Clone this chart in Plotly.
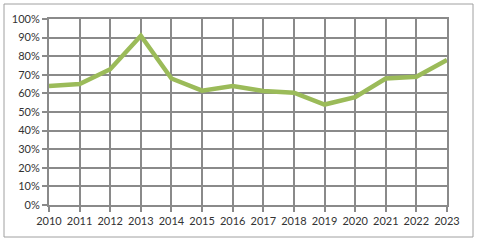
import plotly.graph_objects as go

years = [2010, 2011, 2012, 2013, 2014, 2015, 2016, 2017, 2018, 2019, 2020, 2021, 2022, 2023]
values = [64, 65, 73, 91, 68, 61.5, 64, 61.3, 60.4, 54, 58, 68, 69, 78]
y_ticks = [0, 10, 20, 30, 40, 50, 60, 70, 80, 90, 100]

grid = "#8a8a8a"
txt = "#333333"

fig = go.Figure()
fig.add_trace(go.Scatter(
    x=years, y=values, mode="lines",
    line=dict(color="#9bbb59", width=4.5),
    hoverinfo="skip", showlegend=False,
))

L, R, T, B = 49, 33, 19, 38
W, H = 480, 243
pw, ph = W - L - R, H - T - B

fig.update_layout(
    width=W, height=H,
    margin=dict(l=L, r=R, t=T, b=B, pad=0),
    paper_bgcolor="white", plot_bgcolor="white",
    font=dict(family="Lato, Liberation Sans, sans-serif", size=11, color=txt),
    xaxis=dict(
        range=[years[0], years[-1]], tickmode="array", tickvals=years,
        ticktext=[str(y) for y in years],
        showgrid=True, gridcolor=grid, gridwidth=2,
        showline=True, linecolor=grid, linewidth=2, mirror=True,
        ticks="outside", ticklen=5, tickcolor=grid, tickwidth=2,
        zeroline=False, fixedrange=True,
    ),
    yaxis=dict(
        range=[0, 100], tickmode="array", tickvals=y_ticks,
        ticktext=[f"{v}%" for v in y_ticks],
        showgrid=True, gridcolor=grid, gridwidth=2,
        showline=True, linecolor=grid, linewidth=2, mirror=True,
        ticks="outside", ticklen=5, tickcolor=grid, tickwidth=2,
        zeroline=False, fixedrange=True,
    ),
    shapes=[dict(
        type="rect", xref="paper", yref="paper",
        x0=(4 - L) / pw, x1=(473 - L) / pw,
        y0=(H - 237 - B) / ph, y1=(H - 4 - B) / ph,
        line=dict(color="#a0a0a0", width=1), layer="below",
    )],
)

fig.write_html("out.html", config={"displayModeBar": False})
